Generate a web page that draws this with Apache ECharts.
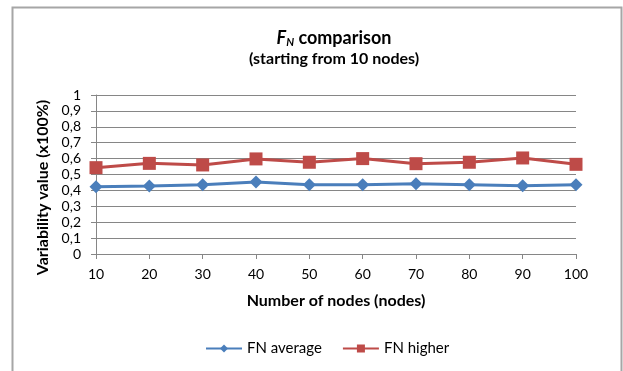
<!DOCTYPE html>
<html>
<head>
<meta charset="utf-8">
<script src="https://cdn.jsdelivr.net/npm/echarts@6/dist/echarts.min.js"></script>
<style>
  html, body { margin: 0; padding: 0; background: #fff; }
  #chart { width: 623px; height: 371px; }
</style>
</head>
<body>
<div id="chart"></div>
<script>
// Node counts on the x axis
const nodeCounts = ['10', '20', '30', '40', '50', '60', '70', '80', '90', '100'];
// FN variability, average and higher
const fnAverage = [0.423, 0.428, 0.436, 0.453, 0.436, 0.436, 0.442, 0.436, 0.430, 0.436];
const fnHigher = [0.543, 0.570, 0.560, 0.598, 0.577, 0.600, 0.568, 0.577, 0.604, 0.564];
const yTicks = [0, 0.1, 0.2, 0.3, 0.4, 0.5, 0.6, 0.7, 0.8, 0.9, 1];

const FONT = 'Lato, "Liberation Sans", sans-serif';
const chart = echarts.init(document.getElementById('chart'));

chart.setOption({
  animation: false,
  backgroundColor: '#fff',
  textStyle: { fontFamily: FONT },
  graphic: [{
    type: 'polyline',
    shape: { points: [[12.5, 371], [12.5, 7.5], [621.5, 7.5], [621.5, 371]] },
    style: { stroke: '#a6a6a6', lineWidth: 2, fill: null },
    silent: true
  }],
  title: {
    text: '{i|F}{sub|N}{b| comparison}',
    subtext: '(starting from 10 nodes)',
    left: 329,
    textAlign: 'center',
    top: 24,
    itemGap: 3,
    textStyle: {
      rich: {
        i: { fontFamily: FONT, fontSize: 18, fontWeight: 'bold', fontStyle: 'italic', color: '#000' },
        sub: { fontFamily: FONT, fontSize: 11, fontWeight: 'bold', fontStyle: 'italic', color: '#000', verticalAlign: 'bottom', padding: [8, 0, 0, 0] },
        b: { fontFamily: FONT, fontSize: 18, fontWeight: 'bold', color: '#000' }
      }
    },
    subtextStyle: { fontFamily: FONT, fontSize: 16, fontWeight: 'bold', color: '#000' }
  },
  legend: {
    bottom: 10,
    left: 200,
    itemWidth: 36,
    itemHeight: 10,
    itemGap: 20,
    textStyle: { fontFamily: FONT, fontSize: 15, color: '#000' },
    data: ['FN average', 'FN higher']
  },
  grid: { left: 96, right: 47, top: 95, bottom: 117, containLabel: false },
  xAxis: {
    type: 'category',
    data: nodeCounts,
    boundaryGap: false,
    name: 'Number of nodes (nodes)',
    nameLocation: 'middle',
    nameGap: 39,
    nameTextStyle: { fontFamily: FONT, fontSize: 16, fontWeight: 'bold', color: '#000' },
    axisLine: { lineStyle: { color: '#868686', width: 1 } },
    axisTick: { show: true, alignWithLabel: true, length: 5, lineStyle: { color: '#868686' } },
    axisLabel: { fontFamily: FONT, fontSize: 14, color: '#000', margin: 13 },
    splitLine: { show: false }
  },
  yAxis: {
    type: 'value',
    min: 0,
    max: 1,
    interval: 0.1,
    name: 'Variability value (x100%)',
    nameLocation: 'middle',
    nameGap: 43,
    nameTextStyle: { fontFamily: FONT, fontSize: 16, fontWeight: 'bold', color: '#000', padding: [0, 26, 0, 0] },
    axisLine: { show: true, lineStyle: { color: '#868686', width: 1 } },
    axisTick: { show: true, length: 5, lineStyle: { color: '#868686' } },
    axisLabel: {
      fontFamily: FONT, fontSize: 14, color: '#000', margin: 15,
      formatter: v => {
        const t = yTicks.find(k => Math.abs(k - v) < 1e-9);
        return String(t !== undefined ? t : v).replace('.', ',');
      }
    },
    splitLine: { show: true, lineStyle: { color: '#868686', width: 1 } }
  },
  series: [
    {
      name: 'FN average',
      type: 'line',
      data: fnAverage,
      symbol: 'diamond',
      symbolSize: 13,
      color: '#4a7ebb',
      lineStyle: { width: 3, color: '#4a7ebb' },
      itemStyle: { color: '#4a7ebb' }
    },
    {
      name: 'FN higher',
      type: 'line',
      data: fnHigher,
      symbol: 'rect',
      symbolSize: 13,
      color: '#be4b48',
      lineStyle: { width: 3, color: '#be4b48' },
      itemStyle: { color: '#be4b48' }
    }
  ]
});
</script>
</body>
</html>
